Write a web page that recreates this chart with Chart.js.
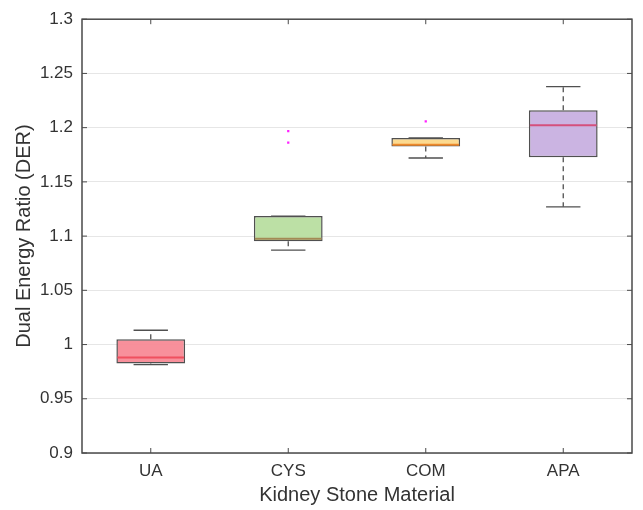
<!DOCTYPE html>
<html>
<head>
<meta charset="utf-8">
<script src="https://cdn.jsdelivr.net/npm/chart.js@4.4.1/dist/chart.umd.min.js"></script>
<style>
  html, body { margin: 0; padding: 0; background: #fff; }
  #wrap { width: 643px; height: 510px; }
</style>
</head>
<body>
<div id="wrap"><canvas id="boxChart" width="643" height="510"></canvas></div>
<script>
// boxplot DER por material
const categories = ['UA', 'CYS', 'COM', 'APA'];
const whiskerLow = [0.9815, 1.087, 1.172, 1.127];
const q1 = [0.9826, 1.0953, 1.1826, 1.1728];
const medians = [0.988, 1.0975, 1.1842, 1.2021];
const q3 = [1.005, 1.1185, 1.1905, 1.2161];
const whiskerHigh = [1.0132, 1.1185, 1.1905, 1.2378];
const outliers = [[], [1.1969, 1.1862], [1.2057], []];
const yTicks = [0.9, 0.95, 1, 1.05, 1.1, 1.15, 1.2, 1.25, 1.3];

const fillColors = ['rgba(248,138,150,0.95)', 'rgba(184,222,160,0.95)', 'rgba(252,216,138,0.95)', 'rgba(200,176,224,0.95)'];
const medianColors = ['#f0505f', '#a38a55', '#ee8a2c', '#d4507c'];
const edge = '#505050';

const boxData = categories.map((c, i) => [q1[i], q3[i]]);
const outlierPts = [];
outliers.forEach((arr, i) => arr.forEach(v => outlierPts.push({ x: categories[i], y: v })));

// bigotes, medianas, marco y ticks hacia dentro
const boxExtras = {
  id: 'boxExtras',
  afterDatasetsDraw(chart){
    const { ctx, chartArea: a, scales: { x, y } } = chart;
    const meta = chart.getDatasetMeta(0);
    ctx.save();
    categories.forEach((c, i) => {
      const cx = x.getPixelForValue(i);
      const bw = meta.data[i].width;
      const capHalf = bw / 4;
      // bigotes discontinuos
      ctx.strokeStyle = edge;
      ctx.lineWidth = 1.3;
      ctx.setLineDash([5, 4]);
      ctx.beginPath();
      ctx.moveTo(cx, y.getPixelForValue(q3[i]));
      ctx.lineTo(cx, y.getPixelForValue(whiskerHigh[i]));
      ctx.moveTo(cx, y.getPixelForValue(q1[i]));
      ctx.lineTo(cx, y.getPixelForValue(whiskerLow[i]));
      ctx.stroke();
      ctx.setLineDash([]);
      // topes
      ctx.beginPath();
      [whiskerHigh[i], whiskerLow[i]].forEach(v => {
        const py = y.getPixelForValue(v);
        ctx.moveTo(cx - capHalf, py);
        ctx.lineTo(cx + capHalf, py);
      });
      ctx.stroke();
      // mediana
      ctx.strokeStyle = medianColors[i];
      ctx.lineWidth = 2;
      const my = y.getPixelForValue(medians[i]);
      ctx.beginPath();
      ctx.moveTo(cx - bw / 2 + 1, my);
      ctx.lineTo(cx + bw / 2 - 1, my);
      ctx.stroke();
    });
    // marco
    ctx.strokeStyle = '#4a4a4a';
    ctx.lineWidth = 1.5;
    ctx.strokeRect(a.left, a.top, a.right - a.left, a.bottom - a.top);
    // ticks hacia dentro
    ctx.lineWidth = 1;
    ctx.beginPath();
    yTicks.forEach(v => {
      const py = y.getPixelForValue(v);
      ctx.moveTo(a.left, py); ctx.lineTo(a.left + 5, py);
      ctx.moveTo(a.right, py); ctx.lineTo(a.right - 5, py);
    });
    categories.forEach((c, i) => {
      const px = x.getPixelForValue(i);
      ctx.moveTo(px, a.bottom); ctx.lineTo(px, a.bottom - 5);
      ctx.moveTo(px, a.top); ctx.lineTo(px, a.top + 5);
    });
    ctx.stroke();
    ctx.restore();
  }
};

const ctx = document.getElementById('boxChart').getContext('2d');
new Chart(ctx, {
  type: 'bar',
  data: {
    labels: categories,
    datasets: [
      {
        label: 'box',
        data: boxData,
        backgroundColor: fillColors,
        borderColor: edge,
        borderWidth: 1.5,
        borderSkipped: false,
        barPercentage: 0.5,
        categoryPercentage: 1,
        order: 2
      },
      {
        type: 'line',
        label: 'outliers',
        data: outlierPts,
        showLine: false,
        pointStyle: 'rect',
        pointRadius: 1.6,
        pointBackgroundColor: '#ff22ff',
        pointBorderWidth: 0,
        order: 1
      }
    ]
  },
  options: {
    responsive: false,
    animation: false,
    layout: { padding: { top: 16, right: 11, left: 0, bottom: 0 } },
    plugins: { legend: { display: false }, tooltip: { enabled: false } },
    scales: {
      x: {
        offset: true,
        grid: { display: false, drawTicks: false },
        border: { display: false },
        ticks: { color: '#333', font: { family: 'Liberation Sans, Arial', size: 17 }, padding: 8 },
        title: { display: true, text: 'Kidney Stone Material', color: '#333',
          font: { family: 'Liberation Sans, Arial', size: 20 }, padding: { bottom: 3 } },
        afterFit(scale){ scale.height = 57; }
      },
      y: {
        min: 0.9,
        max: 1.3,
        grid: { color: '#e6e6e6', drawTicks: false },
        border: { display: false },
        ticks: {
          stepSize: 0.05,
          padding: 9,
          color: '#333',
          font: { family: 'Liberation Sans, Arial', size: 17 },
          callback: v => String(+v.toFixed(2))
        },
        title: { display: true, text: 'Dual Energy Ratio (DER)', color: '#333',
          font: { family: 'Liberation Sans, Arial', size: 20 }, padding: { top: 12 } },
        afterFit(scale){ scale.width = 82; }
      }
    }
  },
  plugins: [boxExtras]
});
</script>
</body>
</html>
